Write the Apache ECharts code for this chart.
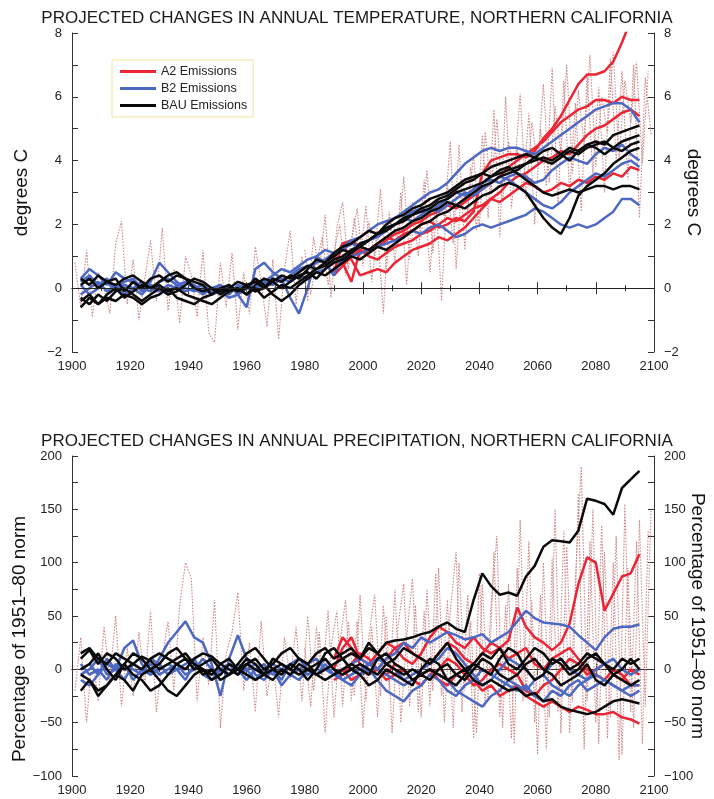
<!DOCTYPE html>
<html><head><meta charset="utf-8">
<script src="https://cdn.jsdelivr.net/npm/echarts@6/dist/echarts.min.js"></script>
<style>html,body{margin:0;padding:0;background:#fff}#c{width:714px;height:799px}</style>
</head><body><div id="c"></div>
<script>
// ---------- categories ----------
const years = [1903,1906,1909,1912,1915,1918,1921,1924,1927,1930,
  1933,1936,1939,1942,1945,1948,1951,1954,1957,1960,
  1963,1966,1969,1972,1975,1978,1981,1984,1987,1990,
  1993,1996,1999,2002,2005,2008,2011,2014,2017,2020,
  2023,2026,2029,2032,2035,2038,2041,2044,2047,2050,
  2053,2056,2059,2062,2065,2068,2071,2074,2077,2080,
  2083,2086,2089,2092,2095];
const redYears = [1990,
  1993,1996,1999,2002,2005,2008,2011,2014,2017,2020,
  2023,2026,2029,2032,2035,2038,2041,2044,2047,2050,
  2053,2056,2059,2062,2065,2068,2071,2074,2077,2080,
  2083,2086,2089,2092,2095];
const dotYears = [1901,1903,1905,1907,1909,1911,1913,1915,1917,1919,
  1921,1923,1925,1927,1929,1931,1933,1935,1937,1939,
  1941,1943,1945,1947,1949,1951,1953,1955,1957,1959,
  1961,1963,1965,1967,1969,1971,1973,1975,1977,1979,
  1981,1983,1985,1987,1989,1991,1993,1995,1997,1999,
  2001,2003,2005,2007,2009,2011,2013,2015,2017,2019,
  2021,2023,2025,2027,2029,2031,2033,2035,2037,2039,
  2041,2043,2045,2047,2049,2051,2053,2055,2057,2059,
  2061,2063,2065,2067,2069,2071,2073,2075,2077,2079,
  2081,2083,2085,2087,2089,2091,2093,2095,2097,2099];
const dotYears2 = [1980,1982,1984,1986,1988,1990,1992,1994,1996,1998,
  2000,2002,2004,2006,2008,2010,2012,2014,2016,2018,
  2020,2022,2024,2026,2028,2030,2032,2034,2036,2038,
  2040,2042,2044,2046,2048,2050,2052,2054,2056,2058,
  2060,2062,2064,2066,2068,2070,2072,2074,2076,2078,
  2080,2082,2084,2086,2088,2090,2092,2094,2096,2098];

// ---------- temperature (degrees C) ----------
const tempDotted = [0.8,-0.6,1.2,-0.9,0.5,0.0,-0.8,1.4,2.1,-0.5,
  0.9,-1.0,0.3,1.5,-0.4,1.9,-0.7,0.6,-1.1,1.0,
  0.4,-0.9,1.2,-1.4,-1.7,0.8,-0.6,1.1,-1.3,0.5,
  -0.8,1.3,0.2,-1.2,0.9,-1.6,0.6,1.8,-0.5,1.0,
  -0.4,1.6,0.5,2.3,-0.3,1.9,2.7,0.6,2.2,0.9,
  2.6,0.2,1.8,-0.8,2.4,0.8,3.0,0.1,2.7,1.0,
  3.4,0.5,2.9,-0.4,3.3,1.4,4.5,1.2,3.8,1.8,
  4.8,2.2,5.6,1.6,6.0,2.5,4.4,3.0,5.5,2.0,
  5.0,3.2,6.9,2.6,6.5,3.0,5.8,2.4,6.7,3.6,
  6.3,3.0,7.2,4.0,6.8,3.4,7.0,2.2,6.6,4.8];
const tempDotted2 = [1.2,-0.2,0.8,1.6,0.1,1.1,2.0,0.4,1.5,2.5,
  0.7,2.1,1.0,3.1,0.6,2.2,1.3,3.5,0.9,2.6,
  1.6,3.7,1.1,2.9,2.2,4.6,0.6,3.4,2.4,4.2,
  1.9,4.9,3.0,5.3,2.7,4.6,3.5,6.1,2.8,5.2,
  3.9,6.4,3.3,5.7,4.2,7.0,3.6,6.2,4.5,7.3,
  3.8,6.0,4.9,7.4,4.1,6.5,5.2,7.1,3.9,6.8];
const tempRed1 = [0.9,1.4,1.5,1.3,1.2,1.4,1.6,1.5,1.7,1.8,2.0,
  2.1,1.9,2.0,2.2,2.1,2.4,3.6,4.0,4.1,4.2,
  4.2,4.1,4.3,4.7,5.0,5.4,5.9,6.4,6.7,6.7,
  6.8,7.1,7.7,8.4,8.8];
const tempRed2 = [0.4,0.7,1.0,1.2,1.1,1.3,1.5,1.7,1.8,2.0,2.1,
  2.3,2.4,2.6,2.5,2.7,2.9,3.1,3.3,3.5,3.8,
  4.0,4.2,4.4,4.6,4.9,5.2,5.4,5.6,5.7,5.9,
  5.9,5.8,6.0,5.9,5.9];
const tempRed3 = [0.5,1.4,0.9,0.4,0.5,0.6,0.5,0.8,1.0,1.2,1.3,
  1.4,1.6,1.5,1.7,1.9,2.2,2.5,2.8,3.0,3.3,
  3.5,3.6,3.8,4.0,4.1,4.3,4.2,4.5,4.8,5.0,
  5.1,5.3,5.5,5.6,5.4];
const tempRed4 = [0.6,0.8,0.2,1.2,1.0,0.9,1.1,1.3,1.4,1.5,1.7,
  1.8,2.0,2.2,2.1,2.3,2.5,2.6,2.8,2.7,2.9,
  3.1,3.3,3.2,3.0,3.1,3.3,3.2,3.4,3.3,3.5,
  3.4,3.6,3.5,3.8,3.7];
const tempBlue1 = [0.3,0.6,0.4,0.1,0.5,0.3,0.2,-0.1,0.2,0.8,
  0.5,0.2,0.0,-0.1,0.0,-0.2,-0.1,-0.3,-0.2,-0.6,
  0.6,0.8,0.5,0.3,-0.3,-0.8,0.0,1.0,0.8,0.4,
  1.0,1.2,1.4,1.5,1.7,1.9,2.0,2.2,2.4,2.5,
  2.4,2.6,2.8,3.0,2.9,3.1,3.3,3.4,3.3,3.5,
  3.6,3.5,3.3,3.4,3.7,3.9,4.1,4.0,3.9,4.2,
  4.4,4.3,4.5,4.2,4.0];
const tempBlue2 = [0.2,0.4,0.1,0.3,0.0,0.2,0.3,0.0,-0.1,0.2,
  0.3,0.1,-0.1,0.0,-0.2,0.0,-0.1,0.1,-0.2,0.0,
  0.2,0.1,0.3,0.2,0.4,0.6,0.7,0.8,0.9,1.1,
  1.3,1.5,1.6,1.8,2.0,2.1,2.2,2.4,2.6,2.8,
  3.0,3.1,3.3,3.6,3.9,4.1,4.3,4.4,4.3,4.4,
  4.4,4.3,4.2,4.4,4.6,4.8,5.0,5.2,5.4,5.6,
  5.7,5.8,5.8,5.6,5.2];
const tempBlue3 = [-0.2,0.0,0.2,-0.1,0.1,-0.2,0.0,0.2,0.0,-0.1,
  0.1,0.0,0.2,0.1,-0.1,0.0,0.1,-0.1,0.0,0.1,
  0.0,0.2,0.1,0.3,0.2,0.4,0.3,0.5,0.6,0.8,
  0.9,1.0,1.1,1.2,1.3,1.4,1.5,1.6,1.8,1.7,
  1.9,2.0,1.8,1.6,1.7,1.9,2.0,1.9,2.0,2.1,
  2.2,2.3,2.5,2.4,2.2,2.0,1.9,2.0,1.9,2.0,
  2.2,2.4,2.8,2.8,2.6];
const tempBlue4 = [0.1,-0.2,0.0,0.2,-0.1,0.1,0.0,-0.2,0.1,0.0,
  -0.2,0.1,0.2,0.0,0.1,-0.1,0.0,-0.2,0.1,0.0,
  -0.1,0.2,0.4,0.6,0.5,0.7,0.9,1.0,1.2,1.1,
  1.2,1.4,1.3,1.5,1.6,1.8,2.0,2.2,2.1,2.3,
  2.5,2.4,2.6,2.8,3.0,2.9,3.1,3.3,3.5,3.4,
  3.2,3.0,2.8,2.6,2.5,2.7,3.0,3.2,3.4,3.6,
  3.5,3.7,3.9,4.0,3.8];
const tempBlack1 = [0.3,0.1,0.4,0.2,0.3,-0.1,0.2,0.0,0.3,0.4,
  0.2,0.4,0.3,0.0,-0.1,0.0,-0.2,0.0,-0.1,0.1,
  0.2,0.0,0.3,0.2,0.4,0.3,0.6,0.9,0.8,1.0,
  1.2,1.1,1.4,1.5,1.7,1.9,2.0,2.1,2.3,2.4,
  2.5,2.7,2.8,3.0,3.1,3.2,3.3,3.5,3.6,3.7,
  3.8,3.9,4.0,4.1,4.0,4.2,4.4,4.3,4.5,4.6,
  4.5,4.8,4.9,5.0,5.1];
const tempBlack2 = [-0.4,-0.2,-0.5,-0.3,-0.4,-0.2,-0.3,-0.5,-0.3,-0.2,
  0.0,-0.3,-0.4,-0.5,-0.3,-0.2,0.0,-0.1,0.0,-0.2,
  0.1,0.3,0.2,0.0,0.2,0.4,0.5,0.3,0.6,0.8,
  0.9,1.1,1.3,1.2,1.4,1.6,1.8,1.9,2.1,2.2,
  2.4,2.5,2.7,2.6,2.8,3.0,3.2,3.3,3.5,3.6,
  3.7,3.9,4.1,4.0,3.9,4.1,4.3,4.2,4.4,4.5,
  4.6,4.4,4.6,4.7,4.8];
const tempBlack3 = [-0.6,-0.3,-0.5,-0.2,0.0,-0.3,-0.1,0.1,0.0,0.2,
  0.4,0.5,0.3,0.2,0.1,-0.2,0.0,0.1,-0.1,0.0,
  0.3,0.1,-0.2,-0.4,-0.2,0.1,0.3,0.5,0.4,0.6,
  0.8,1.0,0.9,1.1,1.3,1.2,1.4,1.6,1.8,2.0,
  2.1,2.3,2.4,2.6,2.5,2.7,2.9,3.0,3.2,3.3,
  3.2,3.0,2.6,2.2,1.9,1.7,2.2,2.9,3.2,3.4,
  3.6,3.9,4.1,4.3,4.4];
const tempBlack4 = [0.1,0.3,0.0,0.2,0.1,0.3,0.4,0.2,0.0,0.1,
  -0.1,0.0,-0.2,-0.3,-0.4,-0.5,-0.3,-0.1,0.0,-0.2,
  0.0,-0.3,-0.1,0.1,0.0,0.2,0.4,0.6,0.7,0.9,
  1.0,1.2,1.3,1.5,1.7,1.8,2.0,2.2,2.3,2.5,
  2.6,2.8,2.9,3.1,3.3,3.4,3.6,3.5,3.7,3.8,
  3.6,3.4,3.2,3.0,2.9,3.0,3.1,3.0,3.1,3.2,
  3.2,3.1,3.2,3.2,3.1];
const tempBlack5 = [-0.3,-0.5,-0.2,-0.4,-0.1,0.0,-0.2,-0.4,-0.2,0.0,
  -0.2,-0.1,0.1,0.3,0.2,0.0,-0.1,0.0,0.2,0.1,
  -0.1,0.0,0.2,0.4,0.3,0.5,0.7,0.6,0.8,1.1,
  1.3,1.4,1.6,1.8,1.7,2.0,2.2,2.3,2.5,2.6,
  2.8,2.9,3.0,3.2,3.4,3.5,3.6,3.8,3.9,4.0,
  4.1,4.2,4.1,4.3,4.4,4.2,4.0,4.3,4.5,4.4,
  4.2,4.4,4.3,4.5,4.6];

// ---------- precipitation (% of 1951-80 norm) ----------
const precDotted = [-20,30,-50,15,-30,40,-10,50,-35,20,
  -25,35,-15,55,-40,10,45,-20,60,100,
  85,-30,30,-15,65,-55,15,35,72,-20,
  25,-40,45,-25,10,-45,30,-10,40,-30,
  50,-20,35,-60,20,55,-35,45,-25,70,
  -30,40,-45,60,-20,75,-50,30,85,-40,
  55,-35,90,-25,65,-55,100,-20,45,-60,
  80,-30,110,-45,60,-65,95,-30,120,-50,
  70,-75,105,-40,130,-60,85,190,-30,150,
  -70,110,-45,125,-80,95,-55,140,-35,150];
const precDotted2 = [20,-35,40,-10,55,-45,25,65,-30,45,
  -55,30,70,-25,50,-60,40,80,-35,60,
  -45,75,-20,95,-50,55,110,-40,70,-65,
  90,-35,60,125,-55,80,-70,140,-25,65,
  -80,100,-45,150,-60,115,-30,165,-75,120,
  -50,135,-65,100,-85,155,-40,120,-70,130];
const precRed1 = [0,20,30,10,5,15,25,20,10,5,15,
  30,40,35,25,20,30,20,15,20,27,
  58,40,30,25,18,25,43,80,105,100,
  55,71,87,90,108];
const precRed2 = [-5,0,-10,-5,5,0,-10,-5,0,-10,-5,
  0,-10,-15,-5,0,-10,-20,-15,-25,-20,
  -15,-25,-30,-35,-30,-35,-40,-35,-38,-42,
  -42,-40,-45,-47,-51];
const precRed3 = [10,30,20,5,-5,0,10,20,25,15,10,
  5,15,25,20,10,5,15,25,20,10,
  15,20,5,0,10,15,20,10,0,-5,
  -10,0,-5,-15,-15];
const precRed4 = [-10,-5,5,15,10,0,-5,5,0,-10,-15,
  -5,0,10,5,-5,-15,-10,0,5,0,
  -5,-20,-25,-15,-10,0,10,5,-5,0,
  5,-5,-10,0,-5];
const precBlue1 = [-10,-15,-5,5,0,20,27,5,-5,10,
  25,35,45,30,25,5,-25,10,32,10,
  -5,-10,0,-15,-5,-10,0,-5,5,-5,
  0,5,10,5,0,10,15,25,20,30,
  25,30,35,32,28,30,33,25,30,35,
  45,55,48,44,43,42,40,32,25,18,
  30,38,40,40,42];
const precBlue2 = [0,5,-5,10,0,-10,5,0,-5,0,
  5,0,-10,5,0,-5,0,5,-5,0,
  5,-5,0,-10,5,0,-5,0,10,0,
  -10,-15,-5,0,-10,-20,-25,-30,-20,-15,
  -5,-10,-20,-25,-15,-10,0,-5,-10,-15,
  -20,-15,-25,-30,-20,-25,-15,-10,-20,-15,
  -10,-15,-20,-25,-20];
const precBlue3 = [-5,0,10,-5,0,5,-10,0,5,-5,
  0,5,-5,0,10,0,-5,5,0,-10,
  0,5,-5,0,5,10,0,-5,0,5,
  10,0,-5,5,10,5,0,-10,-5,0,
  5,10,20,15,5,-5,-15,-10,0,10,
  5,0,-10,-5,5,10,0,-5,-10,0,
  5,10,0,-5,0];
const precBlue4 = [5,-5,0,-10,5,0,0,-5,10,5,
  -5,0,5,10,-5,-10,0,-5,5,0,
  -10,0,5,0,-5,0,5,10,0,-5,
  -10,-5,0,5,0,-5,-10,-15,-10,-5,
  0,-5,-10,-20,-25,-30,-35,-25,-20,-10,
  -15,-20,-10,-5,-15,-20,-25,-15,-10,-5,
  -10,-15,-20,-15,-15];
const precBlack1 = [10,18,5,15,10,0,5,12,8,0,
  5,10,15,5,0,-5,5,10,0,5,
  0,-5,10,5,0,10,5,-5,0,5,
  10,15,10,20,15,25,27,28,30,33,
  35,40,44,38,35,65,90,78,70,72,
  69,87,97,115,121,120,119,130,160,158,
  155,145,170,178,186];
const precBlack2 = [-5,-10,-20,-15,-5,-10,-20,-5,0,-10,
  -20,-25,-15,-5,0,-10,-5,5,0,-5,
  -10,-5,0,5,0,-5,0,5,10,0,
  -5,0,5,0,-5,5,0,-5,0,-5,
  0,-5,-10,-5,0,-10,-15,-10,-15,-20,
  -18,-25,-22,-30,-28,-35,-38,-40,-42,-40,
  -35,-30,-28,-30,-32];
const precBlack3 = [15,20,10,5,15,10,5,0,10,15,
  10,5,0,10,15,12,5,0,-5,5,
  10,0,5,15,20,10,5,15,20,10,
  15,20,10,25,15,5,10,20,15,10,
  5,15,25,10,0,5,15,10,20,5,
  0,10,20,15,5,10,0,5,15,10,
  5,0,10,5,10];
const precBlack4 = [-20,-10,-25,-15,-5,5,-5,-10,-20,-15,
  -5,5,10,5,-5,0,-10,-5,0,10,
  5,-5,-10,0,-5,5,0,-5,-10,-5,
  0,5,0,-5,10,15,5,0,-10,-5,
  -10,0,5,-5,-10,0,10,5,-5,-10,
  -5,5,10,0,-5,-15,-10,-5,5,-10,
  -15,-5,-10,-15,-10];
const precBlack5 = [0,5,15,0,-10,5,15,10,0,5,
  15,20,10,0,5,10,0,-5,5,15,
  20,10,0,-5,5,0,-10,0,15,20,
  10,0,-5,-15,-10,0,-5,-10,-15,0,
  10,5,-10,-15,-5,5,0,-5,10,20,
  15,0,-10,-5,10,5,-5,0,10,15,
  5,-5,0,10,0];

// ---------- tick labels / text ----------
const xTicks = [1900,1920,1940,1960,1980,2000,2020,2040,2060,2080,2100];
const legendNames = ['A2 Emissions','B2 Emissions','BAU Emissions'];

const RED = '#ec2433', BLUE = '#4c68c2', BLACK = '#0a0a0a', DOT = '#cf8a8a';
const FONT = 'Liberation Sans, Arial, sans-serif';

function pairs(xs, ys){ return xs.map((x,i)=>[x, ys[i]]); }
function line(name, xs, ys, color, gi, extra){
  return Object.assign({
    name: name, type: 'line', xAxisIndex: gi*2, yAxisIndex: gi*2,
    data: pairs(xs, ys), showSymbol: false, symbol: 'none',
    lineStyle: {color: color, width: 2.5}, itemStyle:{color: color},
    clip: true, silent: true, animation: false
  }, extra || {});
}
function dotted(xs, ys, gi){
  return line('annual', xs, ys, DOT, gi, {lineStyle:{color: DOT, width: 1.1, type: [1.6,1.4]}, z: 1});
}

const series = [];
// temperature (grid 0)
series.push(dotted(dotYears, tempDotted, 0));
series.push(dotted(dotYears2, tempDotted2, 0));
[tempRed1,tempRed2,tempRed3,tempRed4].forEach(d=>series.push(line('A2 Emissions', redYears, d, RED, 0, {z:2})));
[tempBlue1,tempBlue2,tempBlue3,tempBlue4].forEach(d=>series.push(line('B2 Emissions', years, d, BLUE, 0, {z:3})));
[tempBlack1,tempBlack2,tempBlack3,tempBlack4,tempBlack5].forEach(d=>series.push(line('BAU Emissions', years, d, BLACK, 0, {z:4})));
// zero line
series[0].markLine = {silent:true, symbol:'none', label:{show:false}, lineStyle:{color:'#222', width:1, type:'solid'}, data:[{yAxis:0}], animation:false};
// precipitation (grid 1)
series.push(dotted(dotYears, precDotted, 1));
series.push(dotted(dotYears2, precDotted2, 1));
[precRed1,precRed2,precRed3,precRed4].forEach(d=>series.push(line('A2 Emissions', redYears, d, RED, 1, {z:2})));
[precBlue1,precBlue2,precBlue3,precBlue4].forEach(d=>series.push(line('B2 Emissions', years, d, BLUE, 1, {z:3})));
[precBlack1,precBlack2,precBlack3,precBlack4,precBlack5].forEach(d=>series.push(line('BAU Emissions', years, d, BLACK, 1, {z:4})));

const minus = v => String(v).replace('-', '\u2212');
const axisLineStyle = {show:true, lineStyle:{color:'#333', width:1}};
function xAx(gi, pos, labels){
  return {type:'value', gridIndex: gi, position: pos, min:1900, max:2100, interval:20,
    axisLine: axisLineStyle,
    axisTick:{show:true, inside:true, length:6, lineStyle:{color:'#333'}},
    minorTick:{show:true, splitNumber:2, length:3, lineStyle:{color:'#333'}},
    splitLine:{show:false},
    axisLabel:{show: labels, color:'#222', fontFamily: FONT, fontSize: 13, margin: 8,
      formatter: v => xTicks.indexOf(v) >= 0 ? String(v) : ''}};
}
function yAx(gi, pos, min, max, interval, name, gap, rot, pad){
  return {type:'value', gridIndex: gi, position: pos, min:min, max:max, interval:interval,
    axisLine: axisLineStyle,
    axisTick:{show:true, inside:true, length:6, lineStyle:{color:'#333'}},
    minorTick:{show:true, splitNumber:2, length:6, lineStyle:{color:'#333'}},
    splitLine:{show:false},
    axisLabel:{show:true, color:'#222', fontFamily: FONT, fontSize: 13, margin: 10, formatter: minus},
    name: name, nameLocation:'middle', nameGap: gap, nameRotate: rot, nameMoveOverlap: false,
    nameTextStyle:{color:'#111', fontFamily: FONT, fontSize: 19, padding: pad || 0}};
}

const option = {
  backgroundColor:'#fff',
  animation:false,
  title:[
    {text:'PROJECTED CHANGES IN ANNUAL TEMPERATURE, NORTHERN CALIFORNIA', left:'center', top:5,
     textStyle:{fontFamily: FONT, fontSize:17, fontWeight:'normal', color:'#1a1a1a'}},
    {text:'PROJECTED CHANGES IN ANNUAL PRECIPITATION, NORTHERN CALIFORNIA', left:'center', top:428,
     textStyle:{fontFamily: FONT, fontSize:17, fontWeight:'normal', color:'#1a1a1a'}}
  ],
  legend:{data: legendNames.map(n=>({name:n, icon:'rect'})), orient:'vertical', left:112, top:60,
    itemWidth:36, itemHeight:3, itemGap:4, padding:[5,6,5,8],
    borderColor:'#f3e39a', borderWidth:1, backgroundColor:'#fff',
    textStyle:{fontFamily: FONT, fontSize:12.5, color:'#222'}, selectedMode:false},
  grid:[
    {left:72, right:60, top:33, height:319, outerBoundsMode:'none', containLabel:false},
    {left:72, right:60, top:456, height:320, outerBoundsMode:'none', containLabel:false}
  ],
  xAxis:[xAx(0,'bottom',true), xAx(0,'top',false), xAx(1,'bottom',true), xAx(1,'top',false)],
  yAxis:[
    yAx(0,'left',-2,8,2,'degrees C',41,90), yAx(0,'right',-2,8,2,'degrees C',30,-90),
    yAx(1,'left',-100,200,50,'Percentage of 1951\u201380 norm',43,90,[0,46,0,0]), yAx(1,'right',-100,200,50,'Percentage of 1951\u201380 norm',34,-90)
  ],
  series: series
};
const chart = echarts.init(document.getElementById('c'), null, {renderer:'canvas'});
chart.setOption(option);
</script>
</body></html>
